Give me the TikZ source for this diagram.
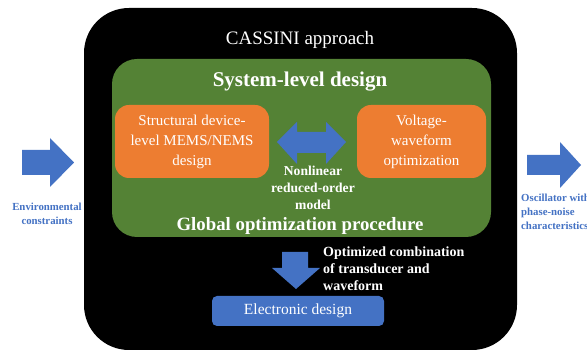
\documentclass[tikz,border=0pt]{standalone}
\usepackage{fontspec}
\setmainfont{Liberation Serif}
\newfontfamily\garfont{Liberation Serif}
\definecolor{cgreen}{HTML}{548235}
\definecolor{corange}{HTML}{ED7D31}
\definecolor{cblue}{HTML}{4472C4}
\newcommand{\fs}[2]{\garfont\fontsize{#1}{#2}\selectfont}
\begin{document}
\begin{tikzpicture}[x=1pt,y=-1pt,
  txt/.style={text=white, inner sep=0pt, align=center},
  orangebox/.style={fill=corange, rounded corners=14pt, draw=none, inner sep=0pt,
    minimum height=73pt, text=white, align=center, font=\fs{15}{20}},
  bluebox/.style={fill=cblue, rounded corners=5pt, inner sep=0pt,
    minimum height=30pt, minimum width=172pt, text=white, font=\fs{15.5}{18}},
  sidelabel/.style={text=cblue, inner sep=0pt, font=\fs{10.8}{14}\bfseries},
  blockarrow/.style={fill=cblue, draw=none}]
\useasboundingbox (0,0) rectangle (587,352);
\fill[white] (0,0) rectangle (587,352);

% outer frame and system-level panel
\fill[black, rounded corners=45pt] (84,8) rectangle (517,350);
\fill[cgreen, rounded corners=25pt] (112,59) rectangle (491,237);

\node[txt, font=\fs{19}{22}] (title) at (300,40) {CASSINI approach};
\node[txt, font=\fs{21}{24}\bfseries] (sys) at (300,82) {System-level design};
\node[txt, font=\fs{18.8}{22}\bfseries] (glob) at (300,226) {Global optimization procedure};

% design blocks
\node[orangebox, minimum width=154pt] (struct) at (192,141.5)
  {Structural device-\\level MEMS/NEMS\\design};
\node[orangebox, minimum width=129pt] (volt) at (421.5,141.5)
  {Voltage-\\waveform\\optimization};

% two-way coupling arrow
\fill[blockarrow] (277,142) -- (297,122) -- (297,132) -- (326,132) -- (326,122)
  -- (346,142) -- (326,164) -- (326,153) -- (297,153) -- (297,164) -- cycle;
\node[txt, font=\fs{13.6}{17}\bfseries] (rom) at (313,188)
  {Nonlinear\\reduced-order\\model};

% output towards electronics
\fill[blockarrow] (282,252) -- (308,252) -- (308,268) -- (320,268) -- (296,289)
  -- (272,268) -- (282,268) -- cycle;
\node[txt, anchor=west, align=left, font=\fs{14}{17}\bfseries] (comb) at (323,269)
  {Optimized combination\\of transducer and\\waveform};
\node[bluebox] (elec) at (298,311) {Electronic design};

% inputs and outputs
\fill[blockarrow] (22,150) -- (50,150) -- (50,138) -- (74,162.5) -- (50,187)
  -- (50,175) -- (22,175) -- cycle;
\node[sidelabel, align=center] (env) at (47,214) {Environmental\\constraints};
\fill[blockarrow] (527,155) -- (560,155) -- (560,142) -- (581,165) -- (560,188)
  -- (560,175) -- (527,175) -- cycle;
\node[sidelabel, anchor=west, align=left] (osc) at (521,212)
  {Oscillator with\\phase-noise\\characteristics};
\end{tikzpicture}
\end{document}
